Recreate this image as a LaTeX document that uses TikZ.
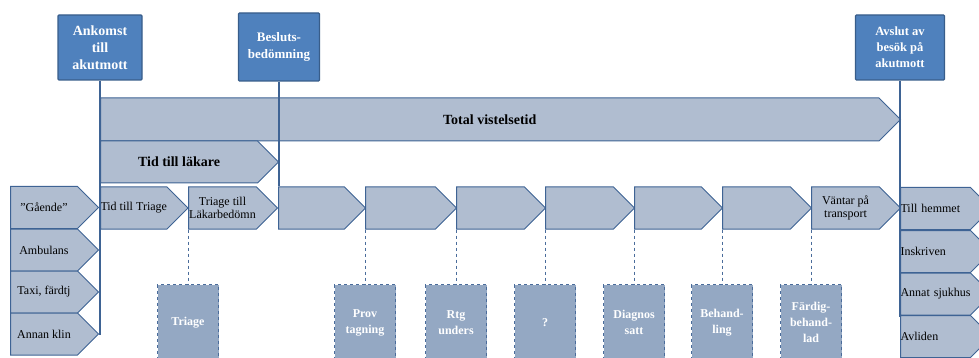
\documentclass[tikz,border=0pt]{standalone}
\usepackage{fontspec}
\setmainfont{Liberation Serif}
\usetikzlibrary{shapes.symbols}

\definecolor{rahmen}{HTML}{3E6394}
\definecolor{pfeilgrau}{HTML}{B0BDD0}
\definecolor{ereignisblau}{HTML}{4F81BD}
\definecolor{ereignisrand}{HTML}{385D8A}
\definecolor{stationblau}{HTML}{94A8C3}
\definecolor{stationrand}{HTML}{4A6C9B}

\begin{document}
\begin{tikzpicture}[
        x=1pt, y=-1pt,
        every node/.style={font=\fontsize{12}{13.5}\selectfont},
        ereignis/.style={draw=ereignisrand, fill=ereignisblau, line width=1.2pt,
                         rounded corners=1pt, text=white, align=center, inner sep=1pt,
                         font=\bfseries\fontsize{14}{17}\selectfont},
        pfeil/.style={signal, signal to=east, draw=rahmen, fill=pfeilgrau,
                      line width=1pt, minimum height=42pt, inner xsep=0pt,
                      inner ysep=1pt, align=center, anchor=west},
        ziel/.style={pfeil, text width=70pt, align=left},
        titel/.style={pfeil, font=\bfseries\fontsize{14}{16}\selectfont},
        station/.style={draw=stationrand, fill=stationblau, dashed, line width=1pt,
                        minimum width=61pt, minimum height=76pt, anchor=north,
                        text=white, align=center,
                        font=\bfseries\fontsize{12}{16}\selectfont},
        kante/.style={draw=rahmen, line width=1.5pt},
        strich/.style={draw=stationrand, dashed, line width=0.8pt}
    ]
        \useasboundingbox (0,0) rectangle (979,358);
        \clip (0,0) rectangle (979,358);

        % Zeitpunkte
        \node[ereignis, minimum width=84pt, minimum height=65pt] (ank) at (100,47.5)
            {Ankomst\\till\\akutmott};
        \node[ereignis, minimum width=81pt, minimum height=68pt,
              font=\bfseries\fontsize{13}{17}\selectfont] (bes) at (279,47)
            {Besluts-\\bedömning};
        \node[ereignis, minimum width=89pt, minimum height=65pt,
              font=\bfseries\fontsize{12.5}{16}\selectfont] (avs) at (900,47.5)
            {Avslut av\\besök på\\akutmott};

        % Zeitspannen
        \node[titel, minimum width=800pt, minimum height=43pt] (tot) at (100,119.5)
            {Total vistelsetid};
        \node[titel, minimum width=178pt] (tl) at (100,162) {Tid till läkare};

        % Ablauf
        \node[pfeil, minimum width=86pt] (c1) at (100,208) {Tid till Triage};
        \node[pfeil, minimum width=89pt] (c2) at (188,208) {Triage till\\Läkarbedömn};
        \node[pfeil, minimum width=87pt] (c3) at (278,208) {};
        \node[pfeil, minimum width=91pt] (c4) at (365,208) {};
        \node[pfeil, minimum width=89pt] (c5) at (456,208) {};
        \node[pfeil, minimum width=89pt] (c6) at (545,208) {};
        \node[pfeil, minimum width=88pt] (c7) at (634,208) {};
        \node[pfeil, minimum width=89pt] (c8) at (722,208) {};
        \node[pfeil, minimum width=89pt] (c9) at (811,208) {Väntar på\\transport};

        % Zugang
        \node[pfeil, minimum width=88pt] (in1) at (10,207.5) {''Gående''};
        \node[pfeil, minimum width=88pt] (in2) at (10,250) {Ambulans};
        \node[pfeil, minimum width=88pt] (in3) at (10,292) {Taxi, färdtj};
        \node[pfeil, minimum width=88pt] (in4) at (10,334) {Annan klin};

        % Abgang
        \node[ziel] (ut1) at (900,208.5) {Till hemmet};
        \node[ziel] (ut2) at (900,251.5) {Inskriven};
        \node[ziel] (ut3) at (900,294) {Annat sjukhus};
        \node[ziel] (ut4) at (900,336.5) {Avliden};

        % Stationen
        \node[station] (s1) at (188,284) {Triage};
        \node[station] (s2) at (365,284) {Prov\\tagning};
        \node[station] (s3) at (456,284) {Rtg\\unders};
        \node[station] (s4) at (545,284) {?};
        \node[station] (s5) at (634,284) {Diagnos\\satt};
        \node[station] (s6) at (722,284) {Behand-\\ling};
        \node[station] (s7) at (811,284) {Färdig-\\behand-\\lad};

        \coordinate (lfuss) at (100,335);
        \coordinate (rfuss) at (900,317);

        \draw[kante] (ank.south) -- (ank.south |- lfuss);
        \draw[kante] (bes.south) -- (bes.south |- c3.north);
        \draw[kante] (avs.south) -- (avs.south |- rfuss);

        \draw[strich] (c2.west |- c2.south) -- (s1.north);
        \draw[strich] (c4.west |- c4.south) -- (s2.north);
        \draw[strich] (c5.west |- c5.south) -- (s3.north);
        \draw[strich] (c6.west |- c6.south) -- (s4.north);
        \draw[strich] (c7.west |- c7.south) -- (s5.north);
        \draw[strich] (c8.west |- c8.south) -- (s6.north);
        \draw[strich] (c9.west |- c9.south) -- (s7.north);
    \end{tikzpicture}
\end{document}
